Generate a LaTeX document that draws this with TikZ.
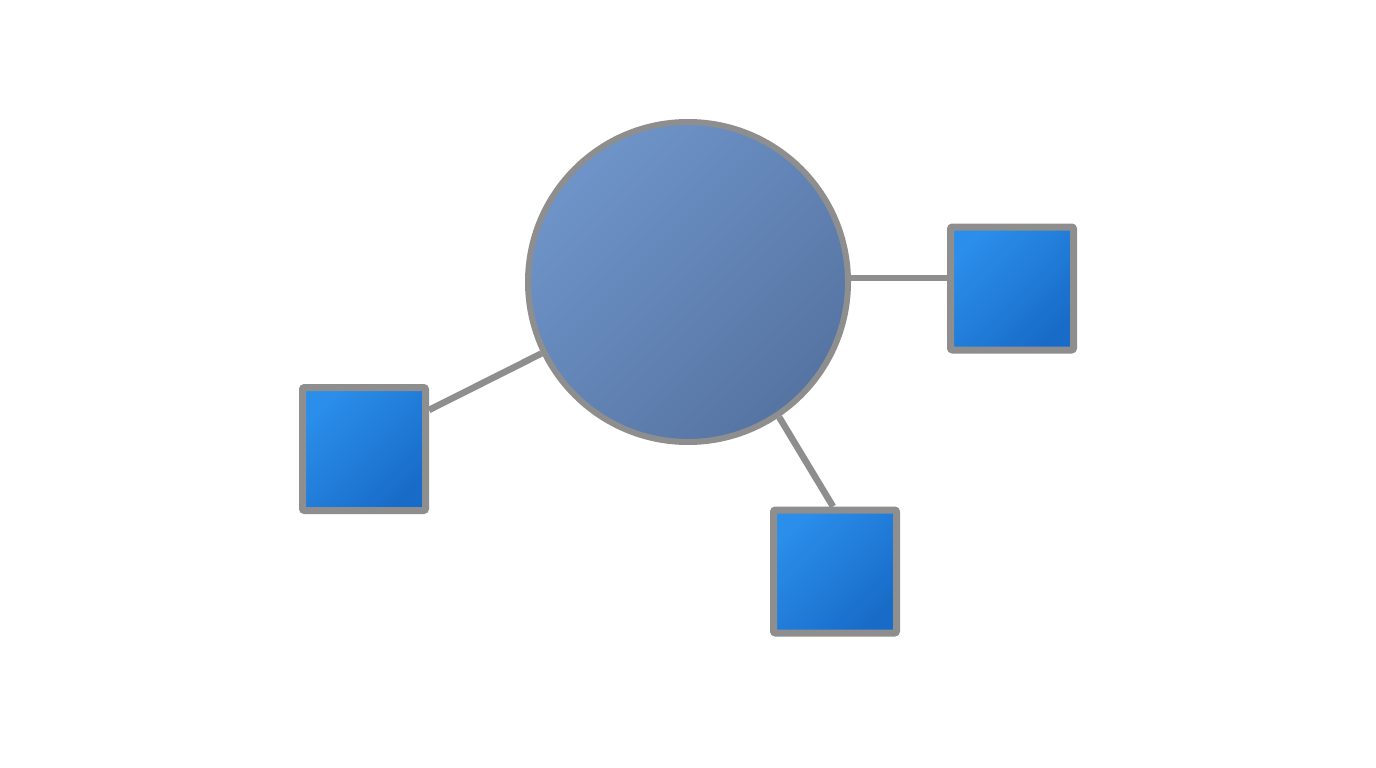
\documentclass[tikz,border=0pt]{standalone}
\usetikzlibrary{backgrounds}
\definecolor{bordergray}{HTML}{8E8E8E}
\definecolor{circlight}{HTML}{6E94C9}
\definecolor{circdark}{HTML}{5674A2}
\definecolor{sqlight}{HTML}{2A8EEA}
\definecolor{sqdark}{HTML}{186CC8}
\begin{document}
\begin{tikzpicture}[x=1pt,y=-1pt,
  hub/.style={circle,draw=bordergray,line width=6pt,minimum size=320pt,inner sep=0pt,
    top color=circlight,bottom color=circdark,shading angle=45},
  leaf/.style={rectangle,draw=bordergray,line width=7pt,minimum size=123pt,inner sep=0pt,rounded corners=2pt,
    top color=sqlight,bottom color=sqdark,shading angle=45},
  link/.style={draw=bordergray,line width=6.5pt}]
\useasboundingbox (0,0) rectangle (1376,768);
\node[hub] (c) at (688,282) {};
\node[leaf] (r) at (1012,288.5) {};
\node[leaf] (l) at (364,449) {};
\node[leaf] (b) at (835,571.5) {};
\coordinate (rin) at ([yshift=10.5pt]r.west);
\coordinate (lin) at ([yshift=39pt]l.east);
\coordinate (bin) at ([xshift=-2pt]b.north);
\begin{scope}[on background layer]
\fill[white] (0,0) rectangle (1376,768);
\draw[link] (rin -| c.east) -- (rin);
\draw[link] (c.206.4) -- (lin);
\draw[link] (c.-56.9) -- (bin);
\end{scope}
\end{tikzpicture}
\end{document}
